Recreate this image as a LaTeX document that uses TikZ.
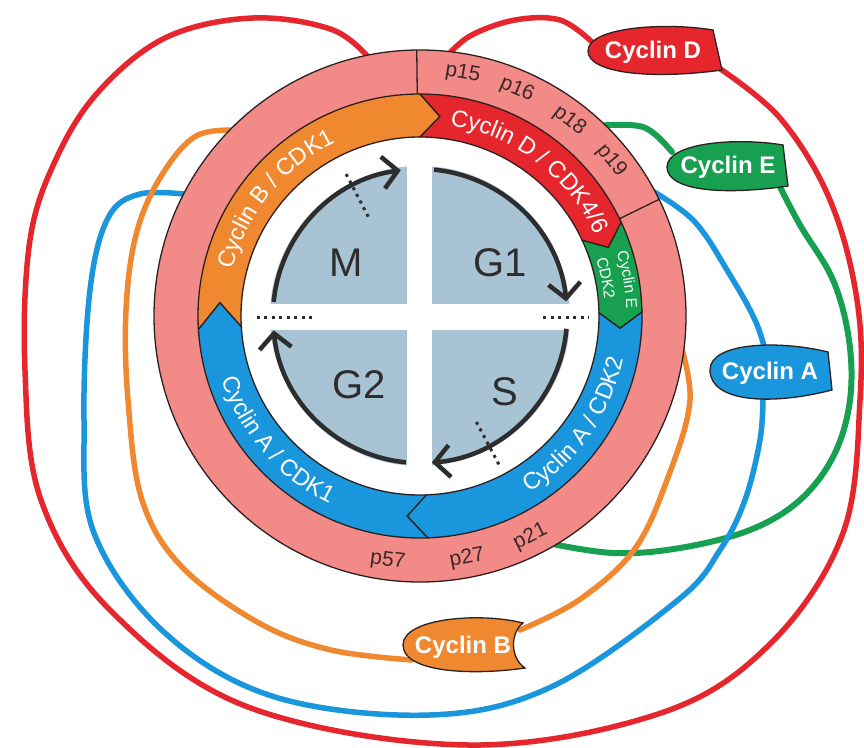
\documentclass[tikz,border=0pt]{standalone}
\usepackage{fontspec}
\setmainfont{Liberation Sans}
\setsansfont{Liberation Sans}
\usetikzlibrary{decorations.text,arrows.meta}
\definecolor{ringpink}{RGB}{242,138,135}
\definecolor{bandorange}{RGB}{240,136,48}
\definecolor{bandred}{RGB}{230,38,45}
\definecolor{bandgreen}{RGB}{22,160,80}
\definecolor{bandblue}{RGB}{25,150,220}
\definecolor{quadgray}{RGB}{168,195,211}
\definecolor{outline}{RGB}{45,32,32}
\definecolor{darktext}{RGB}{60,40,40}
\definecolor{arcgray}{RGB}{45,45,45}
\begin{document}
\begin{tikzpicture}[x=1pt,y=1pt,
  bandbox/.style={draw=outline, line width=1.3pt, line join=miter},
  conn/.style={line width=5.5pt, line cap=round},
  quadarc/.style={draw=arcgray, line width=4.5pt, -{Straight Barb[length=15pt,width=32pt]}},
  dotline/.style={draw=arcgray, line width=3pt, dash pattern=on 3pt off 4.5pt},
  tagbox/.style={draw=outline, line width=1.3pt},
  taglabel/.style={font=\bfseries\fontsize{24}{24}\selectfont, text=white, inner sep=0pt},
  plabel/.style={font=\fontsize{21}{21}\selectfont, text=darktext, inner sep=0pt},
  phase/.style={font=\fontsize{40}{40}\selectfont, text=arcgray, inner sep=0pt},
  imgframe/.style={shift={(-420,316)}, yscale=-1},
  bandtext/.style={decorate, decoration={text along path, text align=center, text color=white, text={|\fontsize{23.5}{23.5}\selectfont|#1}}},
  smalltext/.style={decorate, decoration={text along path, text align=center, text color=white, text={|\fontsize{15.5}{15.5}\selectfont|#1}}}
]
\useasboundingbox (-420,-431) rectangle (444,316);
\fill[white] (-420,-431) rectangle (444,316);

% ring contact points
\coordinate (rRedA) at (100.5:258);
\coordinate (rRedB) at (84.6:258);
\coordinate (rGreenA) at (47.4:258);
\coordinate (rGreenB) at (-61.3:258);
\coordinate (rBlueA) at (30.5:258);
\coordinate (rBlueB) at (152:258);
\coordinate (rOrA) at (134:258);
\coordinate (rOrB) at (-4:258);

\begin{scope}[imgframe]
  % label contact points
  \coordinate (cDin) at (592,42);
  \coordinate (cDout) at (716,66);
  \coordinate (cEin) at (672,152);
  \coordinate (cEout) at (778,183);
  \coordinate (cAin) at (765,350);
  \coordinate (cAout) at (763,398);
  \coordinate (cBin) at (412,660);
  \coordinate (cBout) at (520,630);

  % connectors
  \draw[conn, bandred] plot[smooth, tension=0.6] coordinates {(rRedB) (470,36) (515,20) (560,20) (cDin)};
  \draw[conn, bandred] plot[smooth, tension=0.6] coordinates {(cDout) (780,118) (830,200) (857,300) (860,400) (843,533) (771,643) (661,713) (468,745) (248,707) (110,610) (41,500) (25,370) (30,240) (57,157) (100,90) (167,37) (253,18) (333,30) (rRedA)};
  \draw[conn, bandgreen, line width=6pt] plot[smooth, tension=0.6] coordinates {(rGreenA) (643,127) (cEin)};
  \draw[conn, bandgreen, line width=6pt] plot[smooth, tension=0.6] coordinates {(cEout) (800,225) (833,280) (849,340) (850,400) (834,455) (800,500) (750,530) (680,548) (613,553) (rGreenB)};
  \draw[conn, bandblue] plot[smooth, tension=0.6] coordinates {(rBlueA) (693,220) (730,275) (755,320) (cAin)};
  \draw[conn, bandblue] plot[smooth, tension=0.6] coordinates {(cAout) (760,440) (745,500) (720,550) (678,600) (551,687) (430,715) (275,697) (165,633) (94,533) (84,420) (90,290) (108,218) (140,194) (rBlueB)};
  \draw[conn, bandorange] plot[smooth, tension=0.6] coordinates {(rOrA) (196,136) (160,178) (136,235) (126,310) (128,400) (142,500) (182,567) (259,623) (331,650) (cBin)};
  \draw[conn, bandorange] plot[smooth, tension=0.6] coordinates {(cBout) (579,600) (634,550) (667,480) (690,400) (rOrB)};
\end{scope}

% pink ring
\fill[ringpink, even odd rule] (0,0) circle[radius=266] (0,0) circle[radius=222];
\draw[outline, line width=1.3pt] (0,0) circle[radius=266];
\draw[outline, line width=1.3pt] (90.7:222) -- (90.7:266);
\draw[outline, line width=1.3pt] (26:222) -- (26:266);

% bands
\draw[bandbox, fill=bandorange] (183.5:222) arc[start angle=183.5, end angle=90, radius=222] -- (84.3:200.5) -- (90:179) arc[start angle=90, end angle=183.5, radius=179] -- (176.2:200.5) -- cycle;
\draw[bandbox, fill=bandred] (90:222) arc[start angle=90, end angle=25, radius=222] -- (20:200.5) -- (25:179) arc[start angle=25, end angle=90, radius=179] -- (84.3:200.5) -- cycle;
\draw[bandbox, fill=bandgreen] (25:222) arc[start angle=25, end angle=1, radius=222] -- (-3.5:200.5) -- (1:179) arc[start angle=1, end angle=25, radius=179] -- (20:200.5) -- cycle;
\draw[bandbox, fill=bandblue] (1:222) arc[start angle=1, end angle=-88, radius=222] -- (-93.7:200.5) -- (-88:179) arc[start angle=-88, end angle=1, radius=179] -- (-3.5:200.5) -- cycle;
\draw[bandbox, fill=bandblue] (-88:222) arc[start angle=-88, end angle=-176.5, radius=222] -- (-183.8:200.5) -- (-176.5:179) arc[start angle=-176.5, end angle=-88, radius=179] -- (-93.7:200.5) -- cycle;

% band texts
\path[bandtext={Cyclin B / CDK1}] (180:193) arc[start angle=180, end angle=102, radius=193];
\path[bandtext={Cyclin D / CDK4/6}] (88:193) arc[start angle=88, end angle=18, radius=193];
\path[bandtext={Cyclin A / CDK2}] (-70:208) arc[start angle=-70, end angle=0, radius=208];
\path[bandtext={Cyclin A / CDK1}] (-175:208) arc[start angle=-175, end angle=-103, radius=208];
\path[smalltext={Cyclin E}] (27:206.5) arc[start angle=27, end angle=-7, radius=206.5];
\path[smalltext={CDK2}] (28:185) arc[start angle=28, end angle=-5, radius=185];

% inhibitors
\node[plabel, rotate=-10] (p15) at (80:246) {p15};
\node[plabel, rotate=-23.2] (p16) at (66.8:246) {p16};
\node[plabel, rotate=-37.4] (p18) at (52.6:246) {p18};
\node[plabel, rotate=-51] (p19) at (39:246) {p19};
\node[plabel, rotate=-7.5] (p57) at (-97.5:247) {p57};
\node[plabel, rotate=11] (p27) at (-79:247) {p27};
\node[plabel, rotate=26.6] (p21) at (-63.4:247) {p21};

% quadrants
\fill[quadgray] (0,0) circle[radius=150];
\fill[white] (-13,-152) rectangle (12,152);
\fill[white] (-152,-14) rectangle (152,12);

\draw[quadarc] (174.5:147) arc[start angle=174.5, end angle=97.5, radius=147];
\draw[quadarc] (84.5:147) arc[start angle=84.5, end angle=5.7, radius=147];
\draw[quadarc] (-5:147) arc[start angle=-5, end angle=-85.4, radius=147];
\draw[quadarc] (-95.5:147) arc[start angle=-95.5, end angle=-174.4, radius=147];

\draw[dotline] (-163,-1) -- (-108,-1);
\draw[dotline] (123,-1) -- (169,-1);
\draw[dotline] (117.5:112) -- (117.5:160);
\draw[dotline] (-62:120) -- (-62:168);

\node[phase] (phM) at (-74,53) {M};
\node[phase] (phG1) at (80,53) {G1};
\node[phase] (phG2) at (-61,-69) {G2};
\node[phase] (phS) at (85,-76) {S};

% cyclin tags
\begin{scope}[imgframe]
  \draw[tagbox, fill=bandred] (713,30) .. controls (665,22) and (588,27) .. (588,51) .. controls (588,73) and (650,80) .. (722,70) -- cycle;
  \draw[tagbox, fill=bandgreen] (783,145) .. controls (735,137) and (667,143) .. (667,167) .. controls (667,190) and (720,196) .. (788,186) -- cycle;
  \draw[tagbox, fill=bandblue] (828,352) .. controls (780,340) and (710,342) .. (710,370) .. controls (710,402) and (770,406) .. (832,390) -- cycle;
  \draw[tagbox, fill=bandorange] (523,623) .. controls (480,612) and (403,618) .. (403,645) .. controls (403,672) and (470,676) .. (525,668) .. controls (510,658) and (510,633) .. (523,623) -- cycle;
  \node[taglabel] (cycD) at (653,52) {Cyclin D};
  \node[taglabel] (cycE) at (728,167) {Cyclin E};
  \node[taglabel] (cycA) at (770,373) {Cyclin A};
  \node[taglabel] (cycB) at (463,647) {Cyclin B};
\end{scope}
\end{tikzpicture}
\end{document}
